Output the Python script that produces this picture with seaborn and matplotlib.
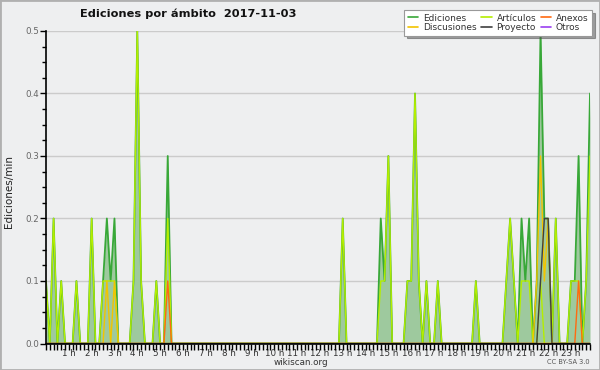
import numpy as np
import pandas as pd
import seaborn as sns
import matplotlib.pyplot as plt
from matplotlib.lines import Line2D
from matplotlib.patches import Rectangle

# Edits per minute, one value every 10 minutes (6 per hour, 00:00 .. 23:50)
ediciones = [
    0.1, 0, 0.2, 0, 0.1, 0, 0, 0, 0.1, 0, 0, 0, 0.2, 0, 0, 0.1, 0.2, 0.1, 0.2, 0, 0, 0, 0, 0.1,   # 0h-4h
    0.5, 0.1, 0, 0, 0, 0.1, 0, 0, 0.3, 0, 0, 0, 0, 0, 0, 0, 0, 0, 0, 0, 0, 0, 0, 0,           # 4h-8h
    0, 0, 0, 0, 0, 0, 0, 0, 0, 0, 0, 0, 0, 0, 0, 0, 0, 0, 0, 0, 0, 0, 0, 0,                   # 8h-12h
    0, 0, 0, 0, 0, 0, 0.2, 0, 0, 0, 0, 0, 0, 0, 0, 0, 0.2, 0.1, 0.3, 0, 0, 0, 0, 0.1,         # 12h-16h
    0.1, 0.4, 0.1, 0, 0.1, 0, 0, 0.1, 0, 0, 0, 0, 0, 0, 0, 0, 0, 0.1, 0, 0, 0, 0, 0, 0,       # 16h-20h
    0, 0.1, 0.2, 0.1, 0, 0.2, 0.1, 0.2, 0, 0.1, 0.5, 0.2, 0.2, 0, 0.2, 0, 0, 0, 0.1, 0.1, 0.3, 0, 0.1, 0.4,  # 20h-24h
]
articulos = [
    0.1, 0, 0.2, 0, 0.1, 0, 0, 0, 0.1, 0, 0, 0, 0.2, 0, 0, 0.1, 0.1, 0.1, 0.1, 0, 0, 0, 0, 0.1,
    0.5, 0.1, 0, 0, 0, 0.1, 0, 0, 0.2, 0, 0, 0, 0, 0, 0, 0, 0, 0, 0, 0, 0, 0, 0, 0,
    0, 0, 0, 0, 0, 0, 0, 0, 0, 0, 0, 0, 0, 0, 0, 0, 0, 0, 0, 0, 0, 0, 0, 0,
    0, 0, 0, 0, 0, 0, 0.2, 0, 0, 0, 0, 0, 0, 0, 0, 0, 0.1, 0.1, 0.3, 0, 0, 0, 0, 0.1,
    0.1, 0.4, 0.1, 0, 0.1, 0, 0, 0.1, 0, 0, 0, 0, 0, 0, 0, 0, 0, 0.1, 0, 0, 0, 0, 0, 0,
    0, 0.1, 0.2, 0.1, 0, 0.1, 0.1, 0.1, 0, 0, 0.1, 0, 0, 0, 0.2, 0, 0, 0, 0.1, 0.1, 0.1, 0, 0.1, 0.3,
]
# the other namespaces are only non-zero at a few times
discusiones = {"02:40": 0.1, "03:00": 0.1, "21:30": 0.1, "21:40": 0.3, "21:50": 0.1, "22:00": 0.2}
proyecto = {"21:40": 0.1, "21:50": 0.2, "22:00": 0.2}
anexos = {"05:20": 0.1, "23:20": 0.1}
otros = {}

hour_labels = [f"{h} h" for h in range(1, 24)]


def full_day(points):
    s = pd.Series(0.0, index=range(144))
    for t, v in points.items():
        hh, mm = t.split(":")
        s[int(hh) * 6 + int(mm) // 10] = v
    return s.values


hours = np.arange(144) / 6
df = pd.DataFrame({
    "hora": hours,
    "Ediciones": ediciones,
    "Artículos": articulos,
    "Discusiones": full_day(discusiones),
    "Anexos": full_day(anexos),
    "Proyecto": full_day(proyecto),
    "Otros": full_day(otros),
})

colors = {
    "Ediciones": "#38a838",
    "Artículos": "#b4ee00",
    "Discusiones": "#f2c400",
    "Anexos": "#ff6a10",
    "Proyecto": "#404040",
    "Otros": "#9a40f0",
}

sns.set_theme(style="white")
plt.rcParams["font.family"] = ["DejaVu Sans"]
bg = "#eeeff0"

fig = plt.figure(figsize=(6, 3.7), dpi=100, facecolor=bg)
ax = fig.add_axes([46 / 600, 1 - 343.5 / 370, 544 / 600, 312.5 / 370])
ax.set_facecolor(bg)

ax.fill_between(df["hora"], df["Ediciones"], color="#9ec99e", lw=0, zorder=2)
for name, lw in [("Ediciones", 1.3), ("Artículos", 1.0), ("Discusiones", 1.0),
                 ("Anexos", 1.0), ("Proyecto", 1.0), ("Otros", 1.0)]:
    if df[name].max() == 0:
        continue
    sns.lineplot(data=df, x="hora", y=name, color=colors[name], lw=lw, ax=ax, zorder=3)

ax.set_xlim(0, 143 / 6)
ax.set_ylim(0, 0.5)
ax.set_xticks(range(1, 24))
ax.set_xticklabels(hour_labels)
ax.set_xticks(np.arange(0, 143 / 6 + 0.01, 1 / 6), minor=True)
ax.set_yticks([0, 0.1, 0.2, 0.3, 0.4, 0.5])
ax.set_yticklabels(["0.0", "0.1", "0.2", "0.3", "0.4", "0.5"])
ax.set_yticks(np.arange(0, 0.501, 0.025), minor=True)
ax.tick_params(axis="x", which="both", direction="out", length=4, width=1, color="black",
               labelsize=6.3, labelcolor="#333333", pad=0, bottom=True)
ax.tick_params(axis="y", which="major", direction="out", length=4, width=1, color="black",
               labelsize=6.3, labelcolor="#666666", pad=1, left=True)
ax.tick_params(axis="y", which="minor", direction="out", length=3, width=1, color="black", left=True)
ax.set_xlabel("")
ax.set_ylabel("")
ax.yaxis.grid(True, color="#cbcbcb", lw=1)
ax.set_axisbelow(True)
for side in ["top", "right"]:
    ax.spines[side].set_visible(False)
for side in ["left", "bottom"]:
    ax.spines[side].set_color("black")
    ax.spines[side].set_linewidth(1.2)
    ax.spines[side].set_zorder(5)

fig.text(188 / 600, 1 - 14 / 370, "Ediciones por ámbito  2017-11-03", ha="center", va="center",
         fontsize=8.2, fontweight="bold", color="#111111")
fig.text(9 / 600, 1 - 192 / 370, "Ediciones/min", rotation=90, ha="center", va="center",
         fontsize=7.5, color="#222222")
fig.text(301 / 600, 1 - 362.5 / 370, "wikiscan.org", ha="center", va="center", fontsize=6.3, color="#333333")
fig.text(590 / 600, 1 - 362.5 / 370, "CC BY-SA 3.0", ha="right", va="center", fontsize=4.8, color="#555555")

order = ["Ediciones", "Discusiones", "Artículos", "Proyecto", "Anexos", "Otros"]
handles = [Line2D([], [], color=colors[n], lw=1.2) for n in order]
leg = fig.legend(handles, order, loc="upper left", bbox_to_anchor=(404 / 600, 1 - 10 / 370), ncol=3,
                 fontsize=6.5, frameon=True, fancybox=False, shadow=True, handlelength=1.2,
                 handletextpad=0.5, columnspacing=0.5, labelspacing=0.05, borderpad=0.4,
                 borderaxespad=0)
leg.get_frame().set_edgecolor("#999999")
leg.get_frame().set_facecolor("white")
leg.get_frame().set_linewidth(0.8)
for t in leg.get_texts():
    t.set_color("#333333")

fig.patches.append(Rectangle((0, 0), 1, 1, transform=fig.transFigure, fill=False,
                             edgecolor="#b0b0b0", lw=2))

fig.savefig("out.png", dpi=100, facecolor=bg)
